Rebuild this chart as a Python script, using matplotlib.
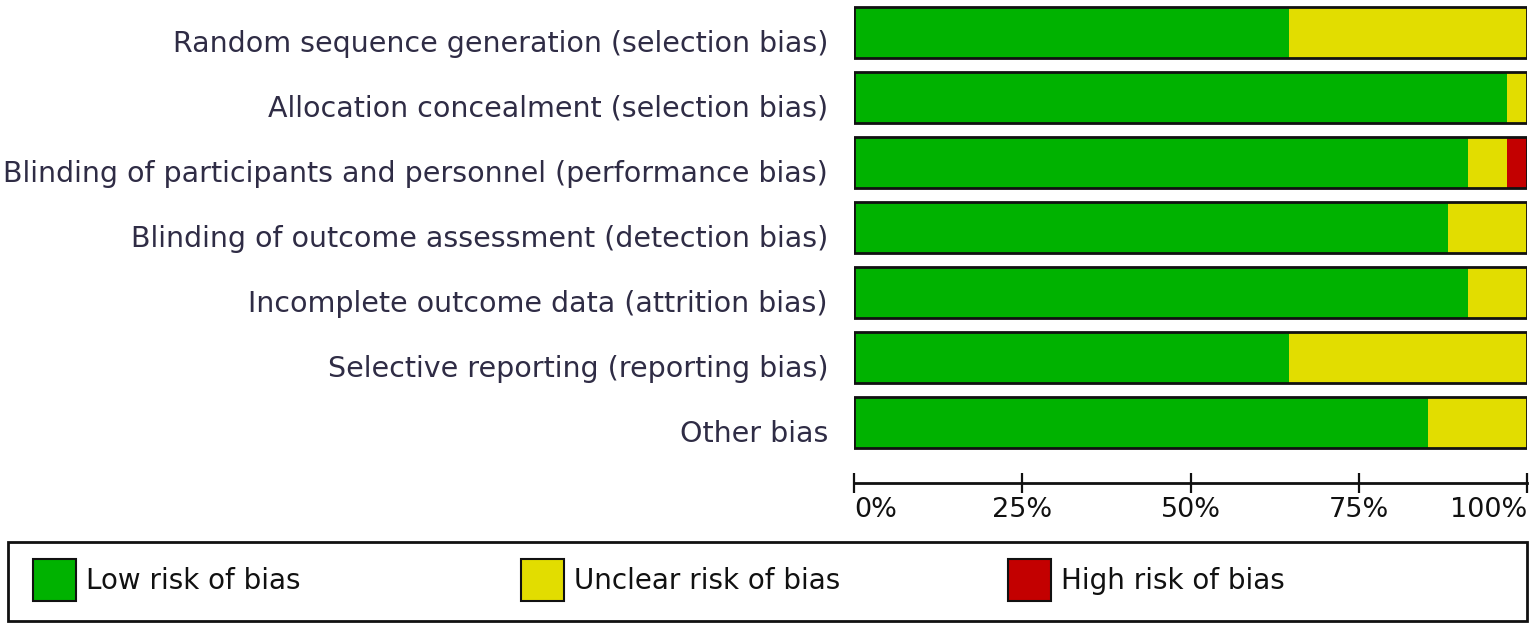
import matplotlib
matplotlib.use("Agg")
import matplotlib.pyplot as plt
from matplotlib.patches import Patch, Rectangle
from matplotlib.transforms import ScaledTranslation, blended_transform_factory
import numpy as np

domains = [
    "Random sequence generation (selection bias)",
    "Allocation concealment (selection bias)",
    "Blinding of participants and personnel (performance bias)",
    "Blinding of outcome assessment (detection bias)",
    "Incomplete outcome data (attrition bias)",
    "Selective reporting (reporting bias)",
    "Other bias",
]
low = [64.7, 97.1, 91.2, 88.2, 91.2, 64.7, 85.3]
unclear = [35.3, 2.9, 5.9, 11.8, 8.8, 35.3, 14.7]
high = [0.0, 0.0, 2.9, 0.0, 0.0, 0.0, 0.0]
tick_vals = [0, 25, 50, 75, 100]
tick_labels = ["0%", "25%", "50%", "75%", "100%"]
legend_labels = ["Low risk of bias", "Unclear risk of bias", "High risk of bias"]

C_LOW = "#00b200"
C_UNC = "#e2dd00"
C_HIGH = "#c30000"
TXT = "#2f2c45"
EDGE = "#111111"

plt.rcParams['font.family'] = ['DejaVu Sans']

W, H = 1535, 629
fig = plt.figure(figsize=(W / 100, H / 100), dpi=100)
ax = fig.add_axes([854 / W, 1 - 455 / H, (1527 - 854) / W, 455 / H])

y = np.arange(len(domains))
low_a = np.array(low)
unc_a = np.array(unclear)
high_a = np.array(high)
bh = 0.77
ax.barh(y, low_a, height=bh, color=C_LOW, edgecolor='none')
ax.barh(y, unc_a, left=low_a, height=bh, color=C_UNC, edgecolor='none')
ax.barh(y, high_a, left=low_a + unc_a, height=bh, color=C_HIGH, edgecolor='none')
ax.barh(y, low_a + unc_a + high_a, height=bh, fill=False, edgecolor=EDGE, linewidth=2)

ax.set_ylim(len(domains) - 0.5, -0.5)
ax.set_xlim(0, 100)
ax.set_yticks([])

# category labels (slightly below bar centres, as in the reference)
lab_tr = blended_transform_factory(ax.transAxes, ax.transData) + \
    ScaledTranslation(-26 / 100, -11.5 / 100, fig.dpi_scale_trans)
for yi, name in zip(y, domains):
    ax.text(0, yi, name, transform=lab_tr, ha='right', va='center',
            fontsize=20.5, color=TXT)

for s in ['top', 'right', 'left']:
    ax.spines[s].set_visible(False)
ax.spines['bottom'].set_position(('outward', 20))
ax.spines['bottom'].set_linewidth(2)
ax.spines['bottom'].set_color(EDGE)
ax.set_xticks(tick_vals)
ax.set_xticklabels(tick_labels, fontsize=19.5, color=EDGE)
ax.tick_params(axis='x', direction='inout', length=15, width=1.6, color=EDGE, pad=3)
lbls = ax.get_xticklabels()
lbls[0].set_ha('left')
lbls[-1].set_ha('right')

# legend
colors = [C_LOW, C_UNC, C_HIGH]
leg_x = [33, 521, 1008]
for c, lab, lx in zip(colors, legend_labels, leg_x):
    h = Patch(facecolor=c, edgecolor=EDGE, linewidth=1.5)
    leg = fig.legend([h], [lab], loc='center left',
                     bbox_to_anchor=(lx / W, 1 - 580 / H),
                     fontsize=20, frameon=False,
                     handlelength=1.55, handleheight=1.95, handletextpad=0.36,
                     borderpad=0, borderaxespad=0)
    for t in leg.get_texts():
        t.set_color(EDGE)
fig.add_artist(Rectangle((8 / W, 1 - 621 / H), 1519 / W, 79 / H,
                         transform=fig.transFigure, fill=False,
                         edgecolor=EDGE, linewidth=2))

fig.savefig("out.png", dpi=100, facecolor='white')
